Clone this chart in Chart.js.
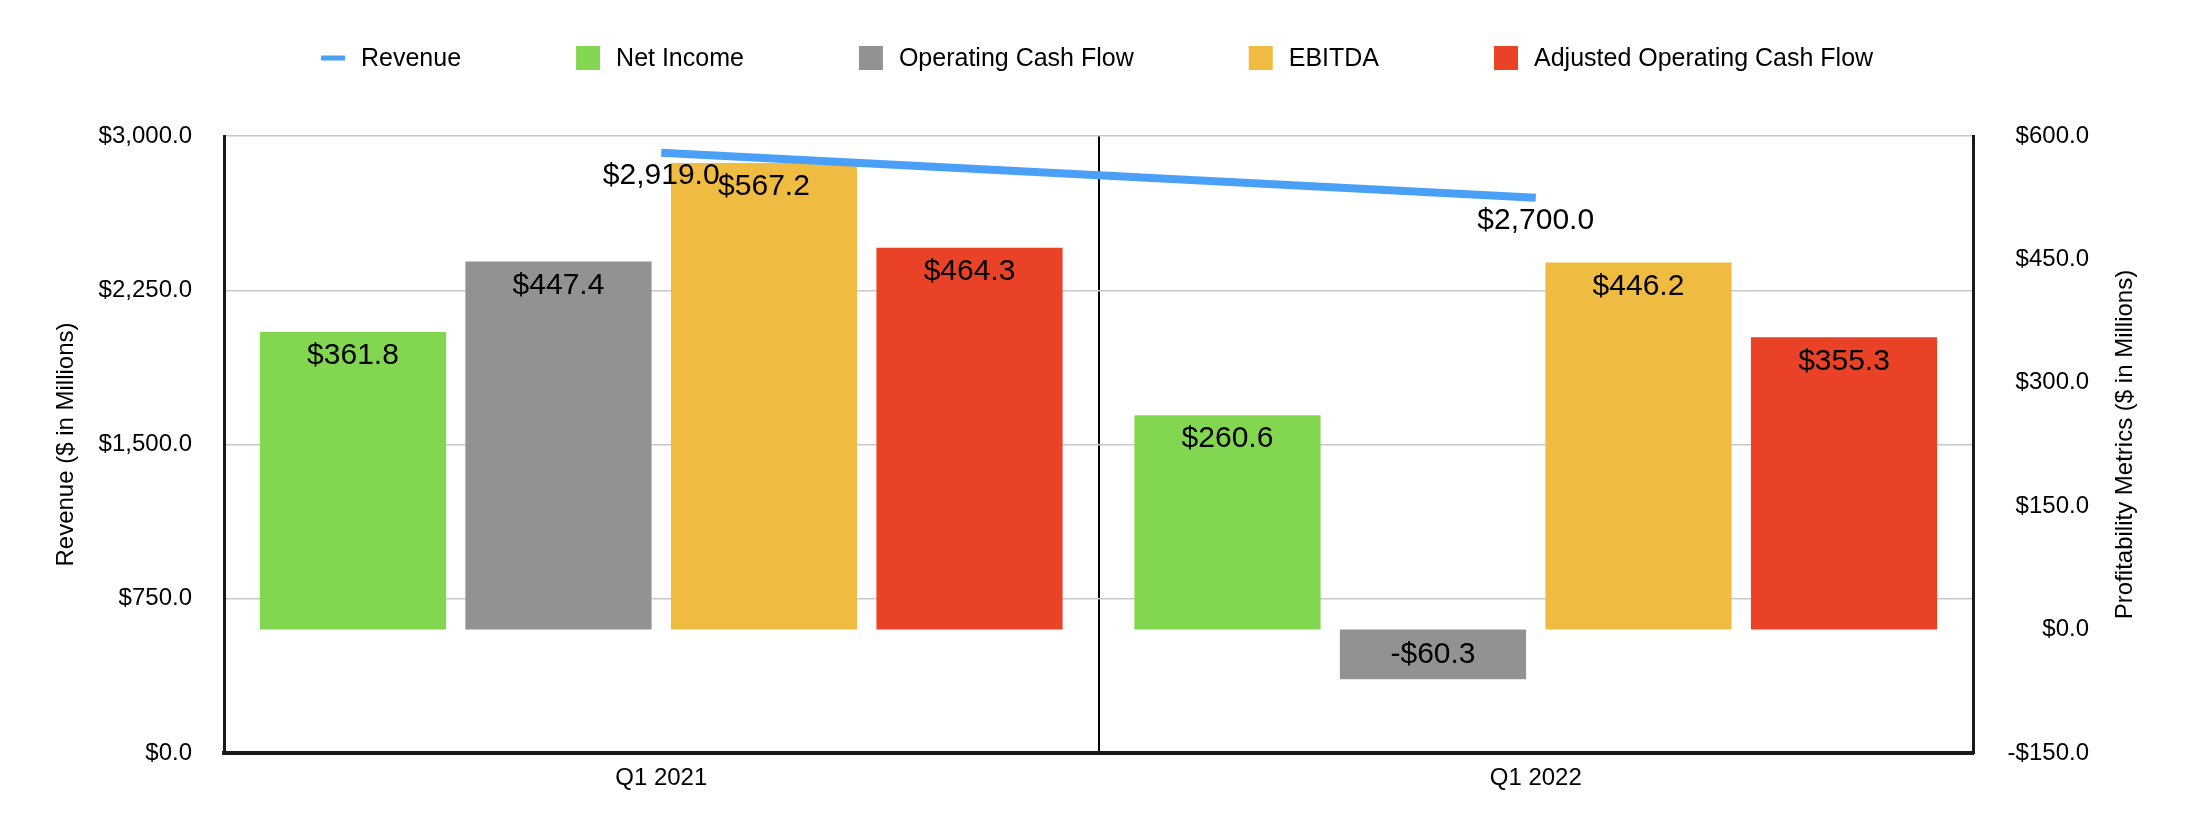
<!DOCTYPE html>
<html>
<head>
<meta charset="utf-8">
<script src="https://cdn.jsdelivr.net/npm/chart.js@4.4.1/dist/chart.umd.min.js"></script>
<style>
  html, body { margin: 0; padding: 0; background: #ffffff; }
  #wrap { width: 2194px; height: 840px; }
</style>
</head>
<body>
<div id="wrap"><canvas id="c" width="2194" height="840"></canvas></div>
<script>
// ---- Data ----
const categories = ['Q1 2021', 'Q1 2022'];
const revenue = [2919.0, 2700.0];
const netIncome = [361.8, 260.6];
const operatingCashFlow = [447.4, -60.3];
const ebitda = [567.2, 446.2];
const adjustedOperatingCashFlow = [464.3, 355.3];
const revenueTicks = [0, 750, 1500, 2250, 3000];
const profitTicks = [-150, 0, 150, 300, 450, 600];
const leftTitle = 'Revenue ($ in Millions)';
const rightTitle = 'Profitability Metrics ($ in Millions)';

const FONT = '"Liberation Sans", Arial, Helvetica, sans-serif';
const COLORS = {
  revenue: '#4a9ff6',
  net: '#83d650',
  ocf: '#929292',
  ebitda: '#efbb40',
  adj: '#ea4226'
};

function money(v) {
  const s = Math.abs(v).toLocaleString('en-US', { minimumFractionDigits: 1, maximumFractionDigits: 1 });
  return (v < 0 ? '-$' : '$') + s;
}

const legendItems = [
  { text: 'Revenue', color: COLORS.revenue, type: 'line' },
  { text: 'Net Income', color: COLORS.net, type: 'box' },
  { text: 'Operating Cash Flow', color: COLORS.ocf, type: 'box' },
  { text: 'EBITDA', color: COLORS.ebitda, type: 'box' },
  { text: 'Adjusted Operating Cash Flow', color: COLORS.adj, type: 'box' }
];

const customLegend = {
  id: 'customLegend',
  afterDraw(chart) {
    const ctx = chart.ctx;
    ctx.save();
    ctx.font = '25px ' + FONT;
    ctx.textBaseline = 'middle';
    ctx.textAlign = 'left';
    const marker = 24, gapText = 16, gapItem = 115, y = 58;
    const widths = legendItems.map(it => ctx.measureText(it.text).width);
    let x = 321;
    legendItems.forEach((it, i) => {
      ctx.fillStyle = it.color;
      if (it.type === 'line') {
        ctx.fillRect(x, y - 2.5, marker, 5);
      } else {
        ctx.fillRect(x, y - 12, marker, 24);
      }
      ctx.fillStyle = '#000000';
      ctx.fillText(it.text, x + marker + gapText, y + 1);
      x += marker + gapText + widths[i] + gapItem;
    });
    ctx.restore();
  }
};

const rightAxisTitle = {
  id: 'rightAxisTitle',
  afterDraw(chart) {
    const ctx = chart.ctx;
    const area = chart.chartArea;
    ctx.save();
    ctx.font = '24px ' + FONT;
    ctx.fillStyle = '#000000';
    ctx.textAlign = 'center';
    ctx.textBaseline = 'middle';
    ctx.translate(2125, (area.top + area.bottom) / 2);
    ctx.rotate(-Math.PI / 2);
    ctx.fillText(rightTitle, 0, 0);
    ctx.restore();
  }
};

const valueLabels = {
  id: 'valueLabels',
  afterDatasetsDraw(chart) {
    const ctx = chart.ctx;
    ctx.save();
    ctx.font = '30px ' + FONT;
    ctx.fillStyle = '#000000';
    ctx.textAlign = 'center';
    ctx.textBaseline = 'middle';
    chart.data.datasets.forEach((ds, di) => {
      const meta = chart.getDatasetMeta(di);
      if (meta.hidden) return;
      meta.data.forEach((el, i) => {
        const v = ds.data[i];
        if (ds.type === 'line') {
          ctx.fillText(money(v), el.x, el.y + 23);
        } else {
          const dir = el.base >= el.y ? 1 : -1;
          ctx.fillText(money(v), el.x, el.y + dir * 24);
        }
      });
    });
    ctx.restore();
  }
};

const barCommon = {
  type: 'bar',
  yAxisID: 'y1',
  order: 2,
  categoryPercentage: 0.94,
  barPercentage: 0.906,
  borderWidth: 0
};

new Chart(document.getElementById('c'), {
  data: {
    labels: categories,
    datasets: [
      {
        type: 'line', label: 'Revenue', data: revenue, yAxisID: 'y', order: 0,
        borderColor: COLORS.revenue, backgroundColor: COLORS.revenue,
        borderWidth: 8, pointRadius: 0, pointHoverRadius: 0, tension: 0,
        borderCapStyle: 'butt', fill: false
      },
      Object.assign({ label: 'Net Income', data: netIncome, backgroundColor: COLORS.net }, barCommon),
      Object.assign({ label: 'Operating Cash Flow', data: operatingCashFlow, backgroundColor: COLORS.ocf }, barCommon),
      Object.assign({ label: 'EBITDA', data: ebitda, backgroundColor: COLORS.ebitda }, barCommon),
      Object.assign({ label: 'Adjusted Operating Cash Flow', data: adjustedOperatingCashFlow, backgroundColor: COLORS.adj }, barCommon)
    ]
  },
  options: {
    responsive: false,
    animation: false,
    devicePixelRatio: 1,
    layout: { padding: { top: 136, right: 105, bottom: 0, left: 0 } },
    plugins: {
      legend: { display: false },
      tooltip: { enabled: false },
      title: { display: false }
    },
    scales: {
      x: {
        type: 'category',
        offset: true,
        grid: { display: true, offset: true, color: '#000000', lineWidth: 2, drawTicks: false },
        border: { display: true, color: '#1a1a1a', width: 4 },
        ticks: { color: '#000000', font: { family: FONT, size: 24 }, padding: 11, maxRotation: 0 },
        afterFit(s) { s.height = 87; }
      },
      y: {
        type: 'linear',
        position: 'left',
        min: 0, max: 3000,
        afterBuildTicks(s) { s.ticks = revenueTicks.map(v => ({ value: v })); },
        grid: { color: '#c8c8c8', lineWidth: 1.5, drawTicks: false },
        border: { display: true, color: '#1a1a1a', width: 3 },
        ticks: { color: '#000000', font: { family: FONT, size: 24 }, padding: 32, callback: v => money(v) },
        title: { display: true, text: leftTitle, color: '#000000', font: { family: FONT, size: 24 }, padding: { top: 51.6, bottom: 0 } },
        afterFit(s) { s.width = 224; }
      },
      y1: {
        type: 'linear',
        position: 'right',
        min: -150, max: 600,
        afterBuildTicks(s) { s.ticks = profitTicks.map(v => ({ value: v })); },
        grid: { display: false, drawOnChartArea: false, drawTicks: false },
        border: { display: true, color: '#1a1a1a', width: 3 },
        ticks: { color: '#000000', font: { family: FONT, size: 24 }, padding: 32, crossAlign: 'far', callback: v => money(v) },
        title: { display: false },
        afterFit(s) { s.width = 116; }
      }
    }
  },
  plugins: [customLegend, rightAxisTitle, valueLabels]
});
</script>
</body>
</html>
